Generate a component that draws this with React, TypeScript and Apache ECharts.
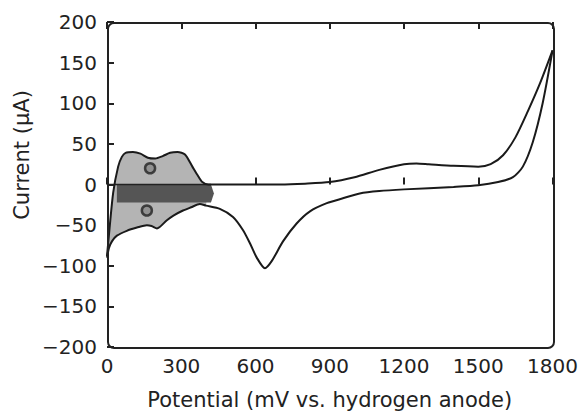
import React, { useEffect, useRef } from "react";
import * as echarts from "echarts";

// Anodic (forward) scan: potential (mV) and current (μA)
const anodicX = [0, 10, 25, 45, 60, 75, 105, 135, 165, 195, 225, 255, 285, 315, 345, 365, 385, 410, 430, 500, 600, 700, 800, 900, 1000, 1100, 1200, 1250, 1300, 1400, 1500, 1550, 1600, 1650, 1700, 1750, 1800];
const anodicY = [-88, -55, -10, 22, 34, 39, 40, 38, 33, 32, 35, 39, 40, 37, 22, 12, 3, 0, 0, 0, 0, 0, 1, 3, 9, 18, 25, 26, 25, 23, 22, 25, 36, 58, 90, 125, 165];

// Cathodic (reverse) scan
const cathodicX = [1800, 1760, 1720, 1680, 1640, 1580, 1500, 1400, 1200, 1100, 1021, 953, 888, 820, 766, 711, 666, 638, 605, 577, 549, 509, 456, 400, 375, 340, 307, 270, 242, 202, 180, 161, 121, 80, 40, 20, 8, 0];
const cathodicY = [165, 100, 52, 22, 9, 3, -1, -3, -6, -8, -11, -17, -23, -33, -48, -70, -94, -103, -90, -72, -56, -40, -30, -26, -24, -28, -32, -38, -44, -54, -51, -50, -53, -57, -63, -70, -78, -90];

// Hydrogen region shading limits and dark band
const shadeMaxX = 425;
const bandX = [40, 420, 432, 420, 40];
const bandY = [0, 0, -11, -22, -22];
const zeroLineX = [0, 420];
const zeroLineY = [0, 0];

// Charge markers (Q)
const markerX = [174, 161];
const markerY = [20, -32];

const xTicks = { min: 0, max: 1800, interval: 300 };
const yTicks = { min: -200, max: 200, interval: 50 };

const FONT = "DejaVu Sans";

export default function App() {
  const ref = useRef<HTMLDivElement>(null);
  useEffect(() => {
    if (!ref.current) return;
    const chart = echarts.init(ref.current, undefined, { renderer: "svg" });
    const anodic = anodicX.map((x, i) => [x, anodicY[i]]);
    const cathodic = cathodicX.map((x, i) => [x, cathodicY[i]]);
    const shadePts = [
      ...anodic.filter((p) => p[0] <= shadeMaxX),
      ...cathodic.filter((p) => p[0] <= shadeMaxX + 20),
    ];
    const bandPts = bandX.map((x, i) => [x, bandY[i]]);
    const polySeries = (pts: number[][], fill: string, z: number) => ({
      type: "custom",
      z,
      silent: true,
      data: [[0, 0]],
      renderItem: (_p: any, api: any) => ({
        type: "polygon",
        shape: { points: pts.map((p) => api.coord(p)) },
        style: { fill, stroke: "none" },
      }),
    });
    const gridL = 107, gridT = 22, gridR = 28, gridB = 70;
    const gridW = 581 - gridL - gridR;
    const gridH = 417 - gridT - gridB;
    chart.setOption({
      animation: false,
      backgroundColor: "#ffffff",
      grid: { left: gridL, top: gridT, right: gridR, bottom: gridB },
      xAxis: [
        {
          type: "value",
          position: "bottom",
          ...xTicks,
          axisLine: { show: false },
          axisTick: { inside: true, length: 7, lineStyle: { color: "#222", width: 2 } },
          splitLine: { show: false },
          axisLabel: {
            margin: 9,
            fontFamily: FONT,
            fontSize: 20,
            color: "#222",
            formatter: (v: number) => String(v),
          },
          name: "Potential (mV vs. hydrogen anode)",
          nameLocation: "middle",
          nameGap: 42,
          nameTextStyle: { fontFamily: FONT, fontSize: 21, color: "#222" },
        },
        {
          type: "value",
          position: "top",
          ...xTicks,
          axisLine: { show: false },
          axisTick: { inside: true, length: 7, lineStyle: { color: "#222", width: 2 } },
          splitLine: { show: false },
          axisLabel: { show: false },
        },
      ],
      yAxis: {
        type: "value",
        ...yTicks,
        axisLine: { show: false },
        axisTick: { inside: true, length: 7, lineStyle: { color: "#222", width: 2 } },
        splitLine: { show: false },
        axisLabel: {
          margin: 10,
          fontFamily: FONT,
          fontSize: 20,
          color: "#222",
          formatter: (v: number) => String(v).replace("-", "\u2212"),
        },
      },
      graphic: [
        {
          type: "rect",
          left: gridL,
          top: gridT,
          z: 100,
          silent: true,
          shape: { x: 0, y: 0, width: gridW, height: gridH, r: 6 },
          style: { fill: "transparent", stroke: "#222222", lineWidth: 2 },
        },
        {
          type: "text",
          x: 22,
          y: 155,
          rotation: Math.PI / 2,
          style: {
            text: "Current (\u03bcA)",
            fontFamily: FONT,
            fontSize: 21,
            fill: "#222",
            align: "center",
            verticalAlign: "middle",
          },
        },
      ],
      series: [
        polySeries(shadePts, "#b4b4b4", 1),
        polySeries(bandPts, "#555555", 2),
        {
          type: "line",
          data: zeroLineX.map((x, i) => [x, zeroLineY[i]]),
          showSymbol: false,
          lineStyle: { color: "#222", width: 1.5 },
          z: 3,
        },
        {
          type: "line",
          data: anodic,
          showSymbol: false,
          smooth: 0.25,
          lineStyle: { color: "#1a1a1a", width: 2 },
          z: 4,
        },
        {
          type: "line",
          data: cathodic,
          showSymbol: false,
          smooth: 0.25,
          lineStyle: { color: "#1a1a1a", width: 2 },
          z: 4,
        },
        {
          type: "scatter",
          data: markerX.map((x, i) => [x, markerY[i]]),
          symbol: "circle",
          symbolSize: 10,
          itemStyle: { color: "#888", borderColor: "#222", borderWidth: 2.5 },
          z: 5,
        },
      ],
    });
    return () => chart.dispose();
  }, []);
  return (
    <div
      ref={ref}
      style={{ position: "fixed", left: 0, top: 0, width: 581, height: 417, background: "#fff" }}
    />
  );
}
